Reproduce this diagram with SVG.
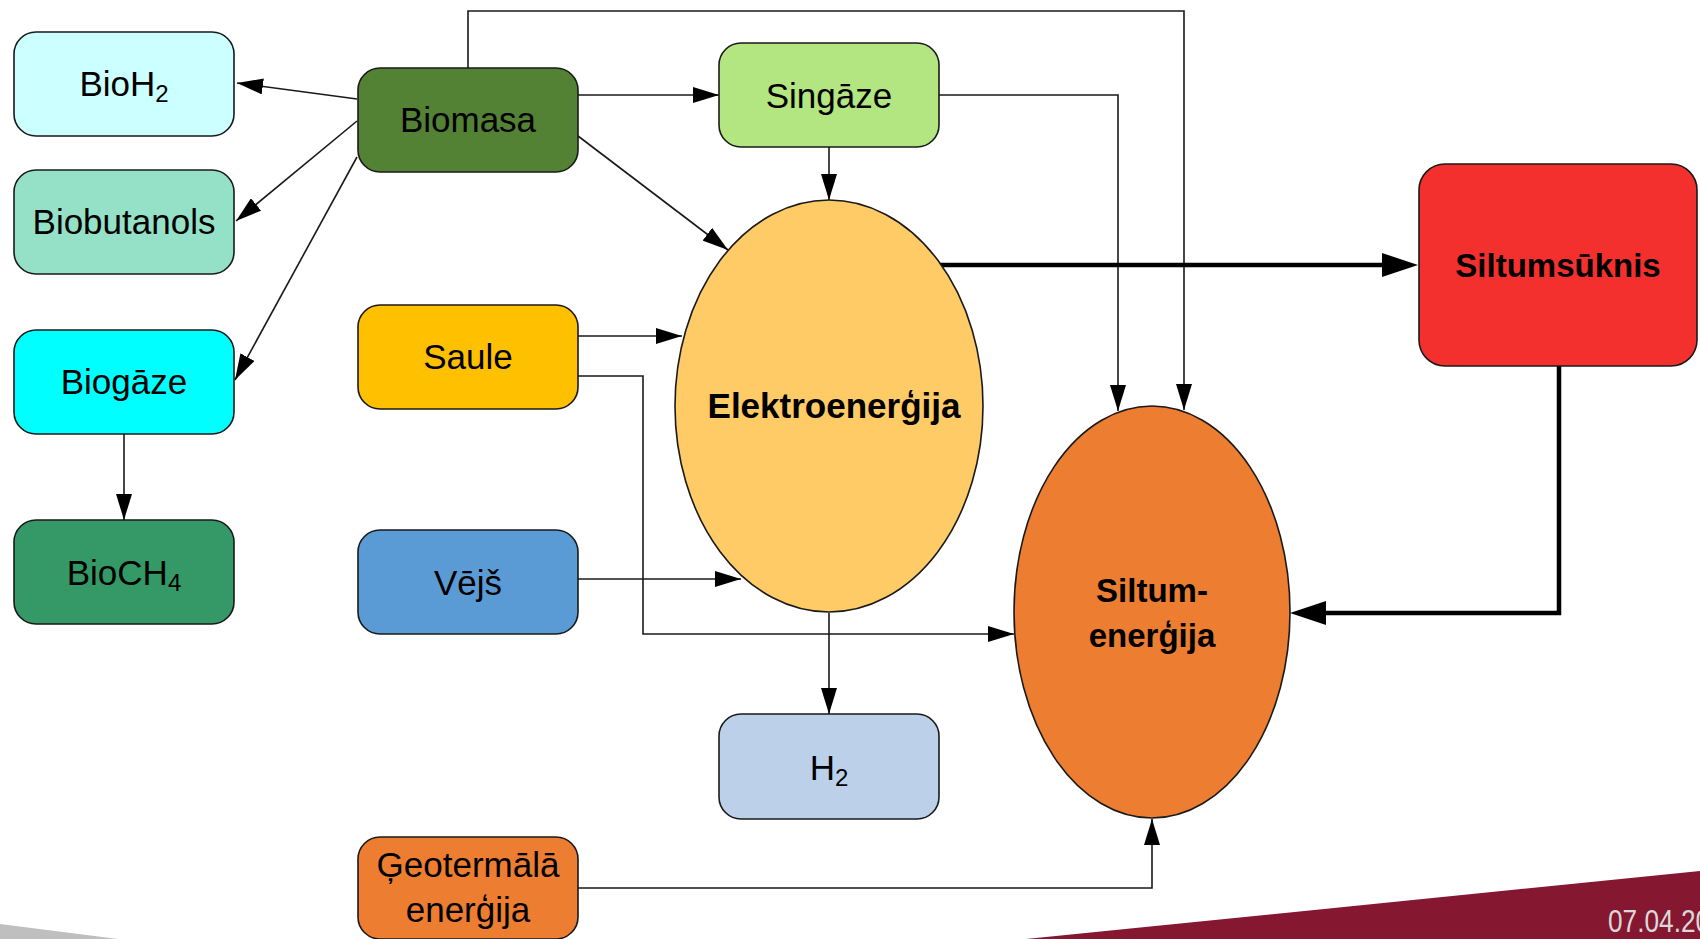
<svg xmlns="http://www.w3.org/2000/svg" width="1700" height="939" viewBox="0 0 1700 939">
<style>
.box{stroke:#1a1a1a;stroke-width:1.6}
.lbl{font-family:"Liberation Sans",Arial,sans-serif;font-size:35px;fill:#000;text-anchor:middle}
.bold{font-weight:bold;font-size:33px}
.sub{font-size:24px}
.ln{fill:none;stroke:#1a1a1a;stroke-width:1.6}
.thick{fill:none;stroke:#000;stroke-width:4.5}
</style>
<defs>
<marker id="a" markerUnits="userSpaceOnUse" markerWidth="26" markerHeight="16" refX="26" refY="8" orient="auto"><path d="M0,0 L26,8 L0,16 z" fill="#000"/></marker>
<marker id="t" markerUnits="userSpaceOnUse" markerWidth="36" markerHeight="24" refX="26" refY="12" orient="auto"><path d="M0,0 L36,12 L0,24 z" fill="#000"/></marker>
</defs>
<rect width="1700" height="939" fill="#fff"/>
<polygon points="0,924 118,939 0,939" fill="#bfbfbf"/>
<polygon points="1026,939 1700,871 1700,939" fill="#861730"/>
<text transform="translate(1608,932) scale(0.82,1)" font-family="Liberation Sans,Arial,sans-serif" font-size="32" fill="#d9d9d9">07.04.20</text>
<g id="connectors">
<path class="ln" d="M357,99 L237,83" marker-end="url(#a)"/>
<path class="ln" d="M357,121 L236,221" marker-end="url(#a)"/>
<path class="ln" d="M357,157 L235,380" marker-end="url(#a)"/>
<path class="ln" d="M124,434 L124,520" marker-end="url(#a)"/>
<path class="ln" d="M578,95 L719,95" marker-end="url(#a)"/>
<path class="ln" d="M468,68 L468,11 L1184,11 L1184,410" marker-end="url(#a)"/>
<path class="ln" d="M939,95 L1118,95 L1118,411" marker-end="url(#a)"/>
<path class="ln" d="M829,147 L829,200" marker-end="url(#a)"/>
<path class="ln" d="M578,136 L728,250" marker-end="url(#a)"/>
<path class="ln" d="M578,336 L682,336" marker-end="url(#a)"/>
<path class="ln" d="M578,376 L643,376 L643,634 L1014,634" marker-end="url(#a)"/>
<path class="ln" d="M578,579 L741,579" marker-end="url(#a)"/>
<path class="ln" d="M829,613 L829,714" marker-end="url(#a)"/>
<path class="ln" d="M578,888 L1152,888 L1152,819" marker-end="url(#a)"/>
<path class="thick" d="M939,265 L1408,265" marker-end="url(#t)"/>
<path class="thick" d="M1559,366 L1559,613 L1300,613" marker-end="url(#t)"/>
</g>
<g id="bioh2"><rect class="box" x="14" y="32" width="220" height="104" rx="22" fill="#ccffff"/><text class="lbl" x="124" y="96">BioH<tspan class="sub" dy="6">2</tspan></text></g>
<g id="biobutanols"><rect class="box" x="14" y="170" width="220" height="104" rx="22" fill="#95e1c7"/><text class="lbl" x="124" y="234">Biobutanols</text></g>
<g id="biogaze"><rect class="box" x="14" y="330" width="220" height="104" rx="22" fill="#00ffff"/><text class="lbl" x="124" y="394">Biogāze</text></g>
<g id="bioch4"><rect class="box" x="14" y="520" width="220" height="104" rx="22" fill="#349967"/><text class="lbl" x="124" y="585">BioCH<tspan class="sub" dy="6">4</tspan></text></g>
<g id="biomasa"><rect class="box" x="358" y="68" width="220" height="104" rx="22" fill="#548235"/><text class="lbl" x="468" y="132">Biomasa</text></g>
<g id="saule"><rect class="box" x="358" y="305" width="220" height="104" rx="22" fill="#ffc000"/><text class="lbl" x="468" y="369">Saule</text></g>
<g id="vejs"><rect class="box" x="358" y="530" width="220" height="104" rx="22" fill="#5b9bd5"/><text class="lbl" x="468" y="595">Vējš</text></g>
<g id="geo"><rect class="box" x="358" y="837" width="220" height="102" rx="22" fill="#ed7d31"/><text class="lbl" x="468" y="877">Ģeotermālā</text><text class="lbl" x="468" y="922">enerģija</text></g>
<g id="singaze"><rect class="box" x="719" y="43" width="220" height="104" rx="22" fill="#b3e681"/><text class="lbl" x="829" y="108">Singāze</text></g>
<g id="h2"><rect class="box" x="719" y="714" width="220" height="105" rx="22" fill="#bcd0e9"/><text class="lbl" x="829" y="780">H<tspan class="sub" dy="6">2</tspan></text></g>
<g id="elektro"><ellipse class="box" cx="829" cy="406" rx="154" ry="206" fill="#fecb66"/><text class="lbl bold" x="834" y="418" style="font-size:35px">Elektroenerģija</text></g>
<g id="siltumenergija"><ellipse class="box" cx="1152" cy="612" rx="138" ry="206" fill="#ed7d31"/><text class="lbl bold" x="1152" y="602">Siltum-</text><text class="lbl bold" x="1152" y="647">enerģija</text></g>
<g id="siltumsuknis"><rect class="box" x="1419" y="164" width="278" height="202" rx="26" fill="#f4302e"/><text class="lbl bold" x="1558" y="277">Siltumsūknis</text></g>
</svg>
